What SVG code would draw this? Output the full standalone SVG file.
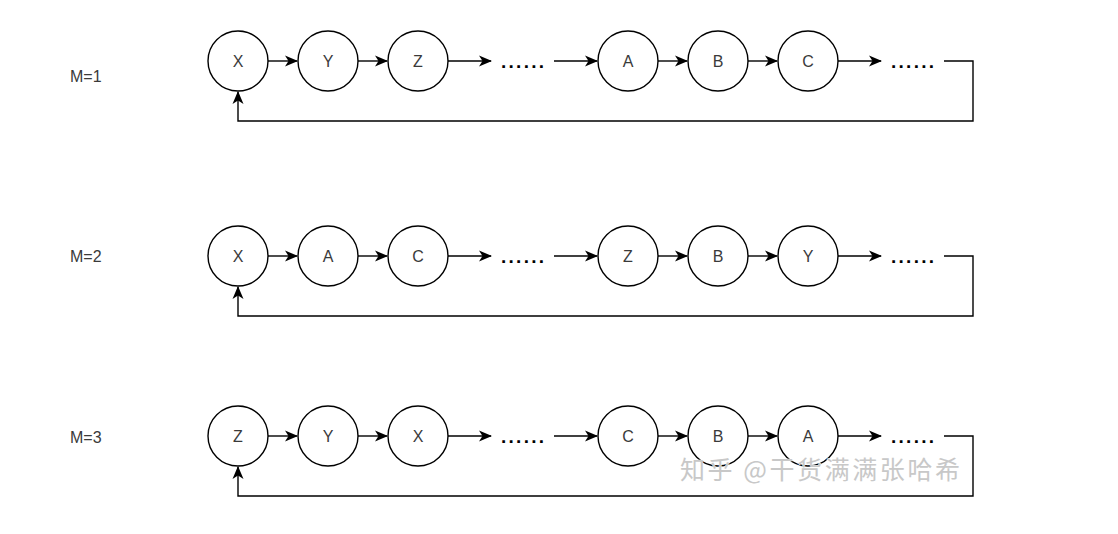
<svg xmlns="http://www.w3.org/2000/svg" width="1118" height="534" viewBox="0 0 1118 534">
<defs>
<style>
.node circle{fill:#fff;stroke:#000;stroke-width:1.4}
.node text{font-family:"Liberation Sans",Arial,sans-serif;font-size:16px;fill:#3a3a3a;text-anchor:middle;dominant-baseline:central}
.lbl{font-family:"Liberation Sans",Arial,sans-serif;font-size:16px;fill:#3a3a3a;dominant-baseline:central}
.dots{font-family:"Liberation Sans",Arial,sans-serif;font-size:19px;font-weight:bold;fill:#000}
.c{fill:none;stroke:#000;stroke-width:1.4}
.wm{font-family:"Noto Sans CJK SC",sans-serif;font-size:25px;fill:#c8c8c8;stroke:#fff;stroke-width:0.6;paint-order:stroke}
</style>
<marker id="ah" viewBox="0 0 13 12" refX="12" refY="6" markerWidth="13" markerHeight="12" markerUnits="userSpaceOnUse" orient="auto">
<path d="M0,0.5 L13,6 L0,11.5 L3.5,6 Z" fill="#000"/>
</marker>
</defs>
<rect width="1118" height="534" fill="#fff"/>
<text class="lbl" x="70" y="76">M=1</text>
<text class="lbl" x="70" y="256">M=2</text>
<text class="lbl" x="70" y="437">M=3</text>

<g id="connectors">
<!-- row 1 -->
<path class="c" d="M268,61 H297" marker-end="url(#ah)"/>
<path class="c" d="M358,61 H387" marker-end="url(#ah)"/>
<path class="c" d="M448,61 H491" marker-end="url(#ah)"/>
<path class="c" d="M554,61 H597" marker-end="url(#ah)"/>
<path class="c" d="M658,61 H687" marker-end="url(#ah)"/>
<path class="c" d="M748,61 H777" marker-end="url(#ah)"/>
<path class="c" d="M838,61 H881" marker-end="url(#ah)"/>
<path class="c" d="M944,61 H973 V121 H238 V92" marker-end="url(#ah)"/>
<!-- row 2 -->
<path class="c" d="M268,256 H297" marker-end="url(#ah)"/>
<path class="c" d="M358,256 H387" marker-end="url(#ah)"/>
<path class="c" d="M448,256 H491" marker-end="url(#ah)"/>
<path class="c" d="M554,256 H597" marker-end="url(#ah)"/>
<path class="c" d="M658,256 H687" marker-end="url(#ah)"/>
<path class="c" d="M748,256 H777" marker-end="url(#ah)"/>
<path class="c" d="M838,256 H881" marker-end="url(#ah)"/>
<path class="c" d="M944,256 H973 V316 H238 V287" marker-end="url(#ah)"/>
<!-- row 3 -->
<path class="c" d="M268,436 H297" marker-end="url(#ah)"/>
<path class="c" d="M358,436 H387" marker-end="url(#ah)"/>
<path class="c" d="M448,436 H491" marker-end="url(#ah)"/>
<path class="c" d="M554,436 H597" marker-end="url(#ah)"/>
<path class="c" d="M658,436 H687" marker-end="url(#ah)"/>
<path class="c" d="M748,436 H777" marker-end="url(#ah)"/>
<path class="c" d="M838,436 H881" marker-end="url(#ah)"/>
<path class="c" d="M944,436 H973 V496 H238 V467" marker-end="url(#ah)"/>
</g>

<g id="dots">
<text class="dots" x="501" y="68" textLength="43" lengthAdjust="spacing">......</text>
<text class="dots" x="891" y="68" textLength="43" lengthAdjust="spacing">......</text>
<text class="dots" x="501" y="263" textLength="43" lengthAdjust="spacing">......</text>
<text class="dots" x="891" y="263" textLength="43" lengthAdjust="spacing">......</text>
<text class="dots" x="501" y="443" textLength="43" lengthAdjust="spacing">......</text>
<text class="dots" x="891" y="443" textLength="43" lengthAdjust="spacing">......</text>
</g>

<g id="r1-X" class="node"><circle cx="238" cy="61" r="30"/><text x="238" y="61">X</text></g>
<g id="r1-Y" class="node"><circle cx="328" cy="61" r="30"/><text x="328" y="61">Y</text></g>
<g id="r1-Z" class="node"><circle cx="418" cy="61" r="30"/><text x="418" y="61">Z</text></g>
<g id="r1-A" class="node"><circle cx="628" cy="61" r="30"/><text x="628" y="61">A</text></g>
<g id="r1-B" class="node"><circle cx="718" cy="61" r="30"/><text x="718" y="61">B</text></g>
<g id="r1-C" class="node"><circle cx="808" cy="61" r="30"/><text x="808" y="61">C</text></g>

<g id="r2-X" class="node"><circle cx="238" cy="256" r="30"/><text x="238" y="256">X</text></g>
<g id="r2-A" class="node"><circle cx="328" cy="256" r="30"/><text x="328" y="256">A</text></g>
<g id="r2-C" class="node"><circle cx="418" cy="256" r="30"/><text x="418" y="256">C</text></g>
<g id="r2-Z" class="node"><circle cx="628" cy="256" r="30"/><text x="628" y="256">Z</text></g>
<g id="r2-B" class="node"><circle cx="718" cy="256" r="30"/><text x="718" y="256">B</text></g>
<g id="r2-Y" class="node"><circle cx="808" cy="256" r="30"/><text x="808" y="256">Y</text></g>

<g id="r3-Z" class="node"><circle cx="238" cy="436" r="30"/><text x="238" y="436">Z</text></g>
<g id="r3-Y" class="node"><circle cx="328" cy="436" r="30"/><text x="328" y="436">Y</text></g>
<g id="r3-X" class="node"><circle cx="418" cy="436" r="30"/><text x="418" y="436">X</text></g>
<g id="r3-C" class="node"><circle cx="628" cy="436" r="30"/><text x="628" y="436">C</text></g>
<g id="r3-B" class="node"><circle cx="718" cy="436" r="30"/><text x="718" y="436">B</text></g>
<g id="r3-A" class="node"><circle cx="808" cy="436" r="30"/><text x="808" y="436">A</text></g>

<text class="wm" x="680" y="479" textLength="280" lengthAdjust="spacing">知乎 @干货满满张哈希</text>
</svg>
